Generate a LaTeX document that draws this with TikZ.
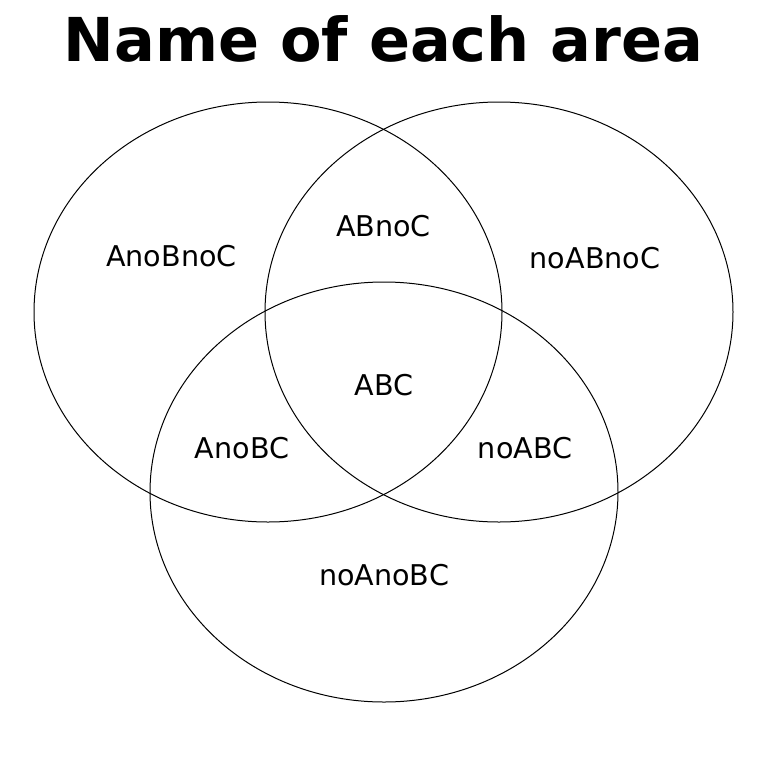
\documentclass[tikz,border=0pt]{standalone}
\usepackage{fontspec}
\setmainfont{DejaVu Sans}
\begin{document}
\begin{tikzpicture}[x=1pt,y=-1pt,line width=1pt,
    area/.style={font=\fontsize{28.6}{34}\selectfont,inner sep=0pt},
    headline/.style={font=\fontsize{60.5}{73}\selectfont\bfseries,inner sep=0pt}]
  \useasboundingbox (0,0) rectangle (768,768);
  \node[headline] (title) at (383.5,38.5) {Name of each area};
  % the three sets
  \coordinate (A) at (268,312);
  \coordinate (B) at (499,312);
  \coordinate (C) at (384,492);
  \foreach \c in {A,B,C}
    \draw (\c) ellipse [x radius=234pt, y radius=210pt];
  % names of the regions
  \node[area] (AnoBnoC) at (171.5,256) {AnoBnoC};
  \node[area] (ABnoC) at (383.5,226) {ABnoC};
  \node[area] (noABnoC) at (595,258) {noABnoC};
  \node[area] (ABC) at (384,385) {ABC};
  \node[area] (AnoBC) at (242,448) {AnoBC};
  \node[area] (noABC) at (525,448) {noABC};
  \node[area] (noAnoBC) at (384,575) {noAnoBC};
\end{tikzpicture}
\end{document}
